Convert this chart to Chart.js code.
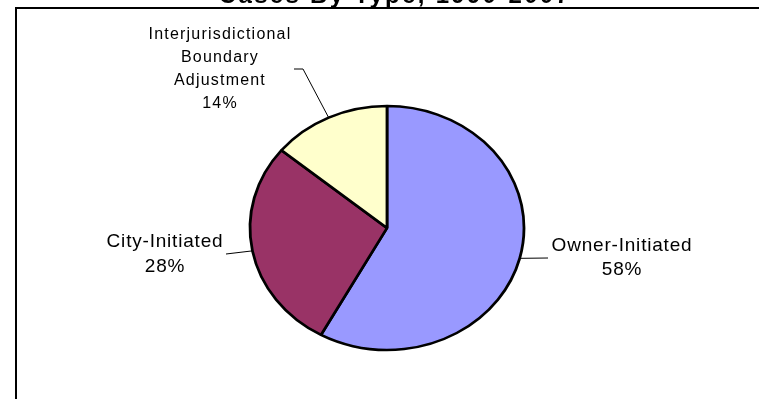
<!DOCTYPE html>
<html>
<head>
<meta charset="utf-8">
<script src="https://cdn.jsdelivr.net/npm/chart.js@4.4.1/dist/chart.umd.min.js"></script>
<style>
    html, body { margin: 0; padding: 0; background: #fff; }
    #wrap { position: relative; width: 759px; height: 399px; }
</style>
</head>
<body>
<div id="wrap"><canvas id="cases-chart" width="759" height="399"></canvas></div>
<script>
const chartTitle = 'Cases By Type, 1990-2007';
const caseTypes = ['Owner-Initiated', 'City-Initiated', 'Interjurisdictional Boundary Adjustment'];
const caseShares = [58, 28, 14];
const sliceColors = ['#9999FF', '#993366', '#FFFFCC'];

// label text lines per slice (the long name wraps over three lines)
const labelLines = [
    ['Owner-Initiated'],
    ['City-Initiated'],
    ['Interjurisdictional', 'Boundary', 'Adjustment']
];

// where each leader line goes and where its label sits
const labelLayout = [
    { path: [[548, 258]], x: 622, y: 251, size: 19, spacing: 0.8, lineH: 24 },
    { path: [[226, 254]], x: 165, y: 247, size: 19, spacing: 0.8, lineH: 25 },
    { path: [[303, 69], [294, 69]], x: 220, y: 38.5, size: 16, spacing: 1.2, lineH: 23 }
];

const xStretch = 137 / 122;

const pieCases = (function () {
    const total = caseShares.reduce((a, b) => a + b, 0);

    function pct(i) {
        return Math.round(caseShares[i] / total * 100) + '%';
    }

    // flatten the pie into an ellipse, like the old spreadsheet chart
    const ellipsePlugin = {
        id: 'ellipse',
        beforeDatasetsDraw(chart) {
            const arc = chart.getDatasetMeta(0).data[0];
            const ctx = chart.ctx;
            ctx.save();
            ctx.translate(arc.x, arc.y);
            ctx.scale(xStretch, 1);
            ctx.translate(-arc.x, -arc.y);
        },
        afterDatasetsDraw(chart) {
            chart.ctx.restore();
        }
    };

    const decorPlugin = {
        id: 'decor',
        beforeDraw(chart) {
            const ctx = chart.ctx;
            ctx.save();
            ctx.fillStyle = '#000';
            ctx.font = 'bold 24px "Liberation Sans", Arial, sans-serif';
            ctx.letterSpacing = '2.3px';
            ctx.textAlign = 'center';
            ctx.textBaseline = 'alphabetic';
            ctx.fillText(chartTitle, 395, 3);
            ctx.restore();
        },
        afterDraw(chart) {
            const ctx = chart.ctx;
            const meta = chart.getDatasetMeta(0);
            ctx.save();

            // frame
            ctx.strokeStyle = '#000';
            ctx.lineWidth = 2;
            ctx.beginPath();
            ctx.moveTo(16, 399);
            ctx.lineTo(16, 8);
            ctx.lineTo(759, 8);
            ctx.stroke();

            meta.data.forEach((arc, i) => {
                const lay = labelLayout[i];
                const mid = (arc.startAngle + arc.endAngle) / 2;
                const sx = arc.x + Math.cos(mid) * arc.outerRadius * xStretch;
                const sy = arc.y + Math.sin(mid) * arc.outerRadius;

                ctx.lineWidth = 1;
                ctx.beginPath();
                ctx.moveTo(sx, sy);
                lay.path.forEach(p => ctx.lineTo(p[0], p[1]));
                ctx.stroke();

                ctx.font = lay.size + 'px "Liberation Sans", Arial, sans-serif';
                ctx.letterSpacing = lay.spacing + 'px';
                ctx.textAlign = 'center';
                ctx.fillStyle = '#000';
                const lines = labelLines[i].concat([pct(i)]);
                lines.forEach((t, k) => ctx.fillText(t, lay.x, lay.y + k * lay.lineH));
            });
            ctx.restore();
        }
    };

    function config(ele) {
        const config = {
            type: 'pie',
            data: {
                labels: caseTypes,
                datasets: [{
                    data: caseShares,
                    backgroundColor: sliceColors,
                    borderColor: '#000',
                    borderWidth: 2.5,
                    radius: 122
                }]
            },
            options: {
                responsive: false,
                animation: false,
                layout: { padding: { left: 257, right: 242, top: 100, bottom: 43 } },
                plugins: {
                    legend: { display: false },
                    title: { display: false },
                    tooltip: { enabled: false }
                }
            },
            plugins: [ellipsePlugin, decorPlugin]
        };

        new Chart(ele, config);
    }

    return {
        configureChart: function () {
            config(document.getElementById('cases-chart'));
        }
    };
})();

pieCases.configureChart();
</script>
</body>
</html>
